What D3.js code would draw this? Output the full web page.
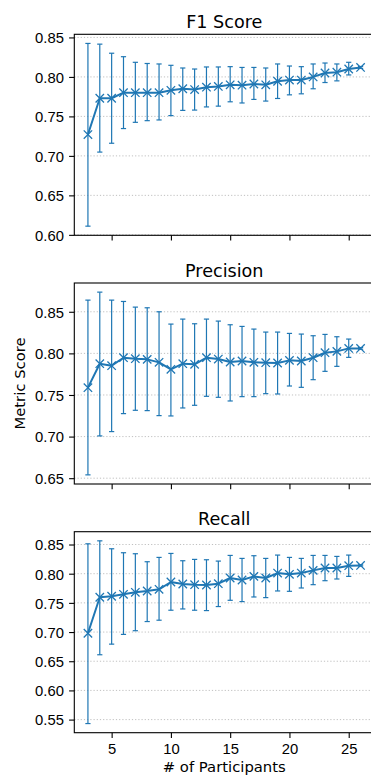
<!DOCTYPE html>
<html>
<head>
<meta charset="utf-8">
<script src="https://cdn.jsdelivr.net/npm/d3@7"></script>
<style>
  body { margin: 0; background: #fff; }
  svg { display: block; font-family: "DejaVu Sans", sans-serif; }
  .tick text { font-size: 14.8px; fill: #000; }
  .grid line { stroke: #b0b0b0; stroke-width: 0.8; stroke-dasharray: 1.2, 2; }
</style>
</head>
<body>
<svg id="chart" width="371" height="775"></svg>
<script>
// participants on the x axis
const participants = [3, 4, 5, 6, 7, 8, 9, 10, 11, 12, 13, 14, 15, 16, 17, 18, 19, 20, 21, 22, 23, 24, 25, 26];
const xTicks = [5, 10, 15, 20, 25];

// F1 score: mean, upper and lower end of the error bar
const f1Mean  = [0.727, 0.773, 0.773, 0.780, 0.780, 0.780, 0.780, 0.783, 0.785, 0.784, 0.787, 0.788, 0.790, 0.7895, 0.791, 0.790, 0.7945, 0.796, 0.796, 0.800, 0.805, 0.806, 0.810, 0.812];
const f1Upper = [0.8424, 0.8415, 0.830, 0.8256, 0.8185, 0.817, 0.8164, 0.8147, 0.8113, 0.810, 0.8126, 0.8126, 0.813, 0.812, 0.812, 0.8113, 0.8164, 0.8138, 0.813, 0.8164, 0.8176, 0.8164, 0.8185, 0.8132];
const f1Lower = [0.611, 0.7048, 0.716, 0.7346, 0.7425, 0.7446, 0.7455, 0.751, 0.7576, 0.758, 0.762, 0.763, 0.7685, 0.767, 0.7715, 0.7694, 0.7727, 0.7773, 0.7786, 0.785, 0.7929, 0.795, 0.8025, 0.8108];
const f1Ticks = [0.60, 0.65, 0.70, 0.75, 0.80, 0.85];

// precision
const precMean  = [0.7588, 0.7876, 0.7852, 0.7948, 0.7936, 0.7928, 0.7892, 0.7808, 0.7876, 0.7868, 0.7948, 0.7932, 0.7896, 0.7908, 0.7892, 0.7888, 0.7884, 0.7916, 0.7908, 0.7948, 0.8008, 0.8024, 0.806, 0.806];
const precUpper = [0.864, 0.8736, 0.864, 0.8624, 0.8556, 0.8548, 0.850, 0.8352, 0.8412, 0.8356, 0.8412, 0.8388, 0.8344, 0.8324, 0.8292, 0.8256, 0.8256, 0.824, 0.8232, 0.8212, 0.8228, 0.820, 0.8172, 0.807];
const precLower = [0.654, 0.7008, 0.706, 0.7276, 0.7316, 0.7312, 0.7252, 0.7248, 0.7344, 0.7376, 0.7484, 0.7472, 0.7428, 0.748, 0.748, 0.7516, 0.7512, 0.7608, 0.7592, 0.7684, 0.7784, 0.7844, 0.7952, 0.805];
const precTicks = [0.65, 0.70, 0.75, 0.80, 0.85];

// recall
const recMean  = [0.698, 0.7596, 0.7613, 0.7647, 0.7681, 0.7704, 0.7732, 0.7858, 0.7823, 0.7812, 0.7806, 0.7829, 0.7926, 0.7892, 0.7954, 0.7926, 0.8011, 0.7989, 0.8011, 0.8057, 0.8097, 0.8097, 0.8137, 0.8142];
const recUpper = [0.8512, 0.8563, 0.8427, 0.8359, 0.8342, 0.8205, 0.8279, 0.8347, 0.8222, 0.8245, 0.8239, 0.8216, 0.8313, 0.8262, 0.8308, 0.8262, 0.8319, 0.8279, 0.8262, 0.8313, 0.8313, 0.8296, 0.8319, 0.8152];
const recLower = [0.5432, 0.6611, 0.6793, 0.6960, 0.7023, 0.718, 0.7203, 0.7374, 0.7396, 0.7374, 0.7368, 0.7437, 0.7544, 0.7522, 0.7601, 0.7590, 0.7704, 0.7698, 0.7755, 0.7812, 0.788, 0.7909, 0.7954, 0.8132];
const recTicks = [0.55, 0.60, 0.65, 0.70, 0.75, 0.80, 0.85];

const panels = [
  { title: 'F1 Score',  mean: f1Mean,   upper: f1Upper,   lower: f1Lower,   ticks: f1Ticks,   top: 34.3 },
  { title: 'Precision', mean: precMean, upper: precUpper, lower: precLower, ticks: precTicks, top: 283 },
  { title: 'Recall',    mean: recMean,  upper: recUpper,  lower: recLower,  ticks: recTicks,  top: 531.7 }
];

const color = '#1f77b4';
const left = 74.3, right = 374.2, panelH = 201;
const tickLen = 5.2, tickPad = 5.2;

const svg = d3.select('#chart');

// matplotlib style 5% margins
function padded(lo, hi) {
  const m = (hi - lo) * 0.05;
  return [lo - m, hi + m];
}

const x = d3.scaleLinear()
  .domain(padded(d3.min(participants), d3.max(participants)))
  .range([left, right]);

panels.forEach((p, k) => {
  const y = d3.scaleLinear()
    .domain(padded(d3.min(p.lower), d3.max(p.upper)))
    .range([p.top + panelH, p.top]);

  const g = svg.append('g');
  const rows = participants.map((n, i) => ({ n: n, m: p.mean[i], hi: p.upper[i], lo: p.lower[i] }));

  // grid
  g.append('g').attr('class', 'grid')
    .selectAll('line').data(p.ticks).enter().append('line')
    .attr('x1', left).attr('x2', right)
    .attr('y1', d => y(d)).attr('y2', d => y(d));

  // error bars
  const eb = g.append('g').attr('stroke', color).attr('stroke-width', 1.2).attr('fill', 'none');
  eb.selectAll('.eb').data(rows).enter().append('line')
    .attr('x1', d => x(d.n)).attr('x2', d => x(d.n))
    .attr('y1', d => y(d.hi)).attr('y2', d => y(d.lo));
  ['hi', 'lo'].forEach(key => {
    eb.selectAll('.cap-' + key).data(rows).enter().append('line')
      .attr('x1', d => x(d.n) - 2.6).attr('x2', d => x(d.n) + 2.6)
      .attr('y1', d => y(d[key])).attr('y2', d => y(d[key]));
  });

  // mean line
  g.append('path')
    .datum(rows)
    .attr('fill', 'none')
    .attr('stroke', color)
    .attr('stroke-width', 2)
    .attr('stroke-linejoin', 'round')
    .attr('d', d3.line().x(d => x(d.n)).y(d => y(d.m)));

  // x markers
  const s = 4.2;
  g.append('g').selectAll('path').data(rows).enter().append('path')
    .attr('fill', 'none').attr('stroke', color).attr('stroke-width', 1.3)
    .attr('d', d => {
      const cx = x(d.n), cy = y(d.m);
      return 'M' + (cx - s) + ',' + (cy - s) + 'L' + (cx + s) + ',' + (cy + s) +
        'M' + (cx - s) + ',' + (cy + s) + 'L' + (cx + s) + ',' + (cy - s);
    });

  // axes
  const yAxis = g.append('g')
    .attr('transform', 'translate(' + left + ',0)')
    .call(d3.axisLeft(y).tickValues(p.ticks).tickFormat(d3.format('.2f'))
      .tickSizeInner(tickLen).tickSizeOuter(0).tickPadding(tickPad));
  const xAxis = g.append('g')
    .attr('transform', 'translate(0,' + (p.top + panelH) + ')')
    .call(d3.axisBottom(x).tickValues(xTicks)
      .tickFormat(k === panels.length - 1 ? d3.format('d') : '')
      .tickSizeInner(tickLen).tickSizeOuter(0).tickPadding(tickPad));
  [yAxis, xAxis].forEach(a => {
    a.select('.domain').remove();
    a.selectAll('.tick line').attr('stroke', '#000').attr('stroke-width', 1.1);
  });
  yAxis.selectAll('.tick text').attr('dy', '0.36em');

  // frame
  g.append('rect')
    .attr('x', left).attr('y', p.top)
    .attr('width', right - left).attr('height', panelH)
    .attr('fill', 'none').attr('stroke', '#000').attr('stroke-width', 1.1);

  // title
  g.append('text')
    .attr('x', (left + right) / 2).attr('y', p.top - 6.5)
    .attr('text-anchor', 'middle')
    .style('font-size', '17.6px')
    .text(p.title);
});

// shared labels
svg.append('text')
  .attr('transform', 'translate(25,' + (283 + panelH / 2) + ') rotate(-90)')
  .attr('text-anchor', 'middle')
  .style('font-size', '14.8px')
  .text('Metric Score');

svg.append('text')
  .attr('x', (left + right) / 2).attr('y', 772)
  .attr('text-anchor', 'middle')
  .style('font-size', '14.8px')
  .text('# of Participants');
</script>
</body>
</html>
